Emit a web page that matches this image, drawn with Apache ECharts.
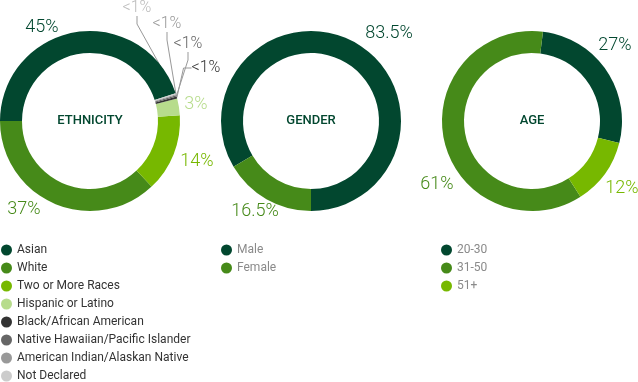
<!DOCTYPE html>
<html><head><meta charset="utf-8">
<script src="https://cdn.jsdelivr.net/npm/echarts@6/dist/echarts.min.js"></script>
<style>html,body{margin:0;padding:0;background:#fff}#c{width:638px;height:382px}</style>
</head><body><div id="c"></div>
<script>
// ---- data ----
const ethnicityCategories = ['Asian','White','Two or More Races','Hispanic or Latino','Black/African American','Native Hawaiian/Pacific Islander','American Indian/Alaskan Native','Not Declared'];
const ethnicityValues = [45, 37, 14, 3, 0.4, 0.2, 0.2, 0.2];
const genderCategories = ['Male','Female'];
const genderValues = [83.5, 16.5];
const ageCategories = ['20-30','31-50','51+'];
const ageValues = [27, 61, 12];
const centerTitles = ['ETHNICITY','GENDER','AGE'];

// ---- styles ----
const ethnicityColors = ['#02472f','#468a19','#77b800','#b7dc8c','#333333','#666666','#999999','#cccccc'];
const ethnicityLabelColors = ['#02472f','#468a19','#77b800','#b7dc8c','#333333','#666666','#999999','#bbbbbb'];
const genderColors = ['#02472f','#468a19'];
const ageColors = ['#02472f','#468a19','#77b800'];

const centers = [[90,121],[311,121],[532,121]];
const labelPos = [
  [[42,27],[24,209],[197,161],[196,104],[206,68],[188,44],[167,24],[137,8]],
  [[389,33],[255,211]],
  [[615,45],[437,184],[622,188]]
];

const FONT = 'Roboto, "Noto Sans", sans-serif';

function buildData(cats, vals, colors, labelColors) {
  return cats.map((n, i) => ({
    name: n,
    value: vals[i],
    itemStyle: { color: colors[i] },
    label: { color: labelColors[i], fontSize: vals[i] < 1 ? 16 : 18 },
    labelLine: { show: vals[i] < 1 }
  }));
}

function pie(idx, data, startAngle) {
  return {
    type: 'pie',
    center: centers[idx],
    radius: [68, 90],
    startAngle: startAngle,
    clockwise: false,
    avoidLabelOverlap: false,
    silent: true,
    emphasis: { disabled: true },
    label: {
      show: true,
      position: 'outside',
      fontFamily: FONT,
      fontWeight: 300,
      formatter: p => (p.value < 1 ? '<1%' : p.value + '%')
    },
    labelLine: { length: 8, length2: 8, lineStyle: { color: '#999', width: 1 } },
    labelLayout: p => ({
      x: labelPos[idx][p.dataIndex][0],
      y: labelPos[idx][p.dataIndex][1],
      align: 'center',
      verticalAlign: 'middle'
    }),
    data: data
  };
}

function legend(left, names, color) {
  return {
    type: 'plain',
    orient: 'vertical',
    left: left,
    top: 244,
    height: 140,
    padding: 0,
    itemWidth: 11,
    itemHeight: 11,
    itemGap: 6,
    icon: 'circle',
    selectedMode: false,
    data: names,
    textStyle: { fontFamily: FONT, fontSize: 12, color: color }
  };
}

const chart = echarts.init(document.getElementById('c'), null, { renderer: 'canvas' });
chart.setOption({
  animation: false,
  backgroundColor: '#fff',
  legend: [
    legend(1, ethnicityCategories, '#333'),
    legend(221, genderCategories, '#8a8a8a'),
    legend(441, ageCategories, '#8a8a8a')
  ],
  graphic: centerTitles.map((t, i) => ({
    type: 'text',
    x: centers[i][0],
    y: centers[i][1],
    style: { text: t, fontFamily: FONT, fontSize: 13, fontWeight: 500, fill: '#02472f', align: 'center', verticalAlign: 'middle' }
  })),
  series: [
    pie(0, buildData(ethnicityCategories, ethnicityValues, ethnicityColors, ethnicityLabelColors), 18),
    pie(1, buildData(genderCategories, genderValues, genderColors, genderColors), 270),
    pie(2, buildData(ageCategories, ageValues, ageColors, ageColors), -14.2)
  ]
});
</script></body></html>
